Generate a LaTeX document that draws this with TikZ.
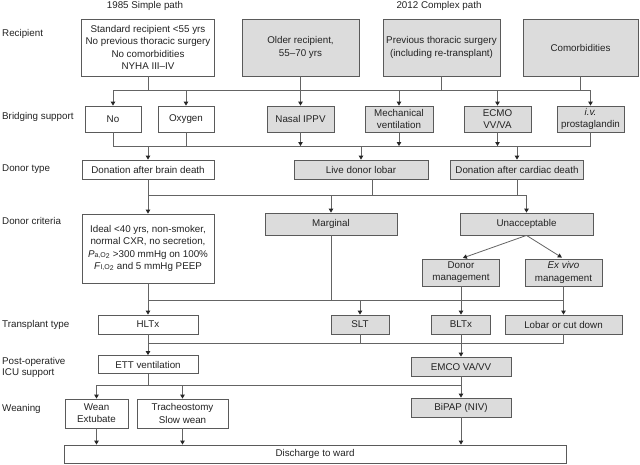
\documentclass[tikz,border=0pt]{standalone}
\usepackage{fontspec}
\setmainfont{Liberation Sans}
\usetikzlibrary{arrows.meta,calc}
\definecolor{boxgray}{RGB}{220,220,220}
\definecolor{linegray}{RGB}{100,100,100}
\definecolor{txt}{RGB}{35,35,35}
\tikzset{
  base/.style={draw=linegray!90!black, line width=0.8pt, inner sep=0pt, align=center, text=txt,
    font={\fontsize{9.8}{12.2}\selectfont}},
  wbox/.style={base, fill=white},
  gbox/.style={base, fill=boxgray},
  lbl/.style={anchor=west, inner sep=0pt, align=left, text=txt, font={\fontsize{9.8}{11.5}\selectfont}},
  ln/.style={draw=linegray, line width=0.8pt},
  arr/.style={ln, -{Triangle[length=4pt,width=4.5pt,color=black!85,fill=black!85]}},
}
\begin{document}
\begin{tikzpicture}[x=1pt,y=-1pt]
\fill[white] (0,0) rectangle (640,464);
\useasboundingbox (0,0) rectangle (640,464);

% headings
\node[text=txt, font={\fontsize{9.8}{12}\selectfont}] (h1) at (145,6) {1985 Simple path};
\node[text=txt, font={\fontsize{9.8}{12}\selectfont}] (h2) at (439,6) {2012 Complex path};

% row labels
\node[lbl] (r1) at (2,34) {Recipient};
\node[lbl] (r2) at (2,117) {Bridging support};
\node[lbl] (r3) at (2,169) {Donor type};
\node[lbl] (r4) at (2,221) {Donor criteria};
\node[lbl] (r5) at (2,325) {Transplant type};
\node[lbl] (r6) at (2,367.5) {Post-operative\\ICU support};
\node[lbl] (r7) at (2,409) {Weaning};

% bus levels
\coordinate (busA) at (0,90);
\coordinate (busB) at (0,146);
\coordinate (busC) at (0,195);
\coordinate (busD) at (0,300);
\coordinate (busE) at (0,343);
\coordinate (busF) at (0,385);

% recipient row
\node[wbox, minimum width=133pt, minimum height=57pt] (std) at (148,47.5)
  {Standard recipient <55 yrs\\No previous thoracic surgery\\No comorbidities\\NYHA III--IV};
\node[gbox, minimum width=117pt, minimum height=57pt] (older) at (300.5,47.5) {Older recipient,\\55--70 yrs};
\node[gbox, minimum width=117pt, minimum height=57pt] (prev) at (441.5,47.5) {Previous thoracic surgery\\(including re-transplant)};
\node[gbox, minimum width=115pt, minimum height=57pt] (com) at (580.5,47.5) {Comorbidities};

% bridging row
\node[wbox, minimum width=56pt, minimum height=26pt] (no) at (113,119) {No};
\node[wbox, minimum width=56pt, minimum height=26pt] (oxy) at (186,119) {Oxygen};
\node[gbox, minimum width=67pt, minimum height=26pt] (nasal) at (300.5,119) {Nasal IPPV};
\node[gbox, minimum width=68pt, minimum height=26pt] (mech) at (399,119) {Mechanical\\ventilation};
\node[gbox, minimum width=67pt, minimum height=26pt] (ecmo) at (497.5,119) {ECMO\\VV/VA};
\node[gbox, minimum width=67pt, minimum height=26pt] (iv) at (590.5,119) {\textit{i.v.}\\prostaglandin};

% donor type row
\node[wbox, minimum width=132pt, minimum height=19pt] (dbd) at (148,169.5) {Donation after brain death};
\node[gbox, minimum width=134pt, minimum height=19pt] (live) at (361,169.5) {Live donor lobar};
\node[gbox, minimum width=133pt, minimum height=19pt] (dcd) at (517,169.5) {Donation after cardiac death};

% donor criteria row
\node[wbox, minimum width=132pt, minimum height=69pt] (ideal) at (148,248.5)
  {Ideal <40 yrs, non-smoker,\\normal CXR, no secretion,\\\textit{P}{\scriptsize a,O}\textsubscript{2} >300 mmHg on 100\%\\\textit{F}{\scriptsize I,O}\textsubscript{2} and 5 mmHg PEEP};
\node[gbox, minimum width=132pt, minimum height=22pt] (marg) at (331,224) {Marginal};
\node[gbox, minimum width=133pt, minimum height=22pt] (unacc) at (526.5,224) {Unacceptable};
\node[gbox, minimum width=77pt, minimum height=27pt] (donm) at (461,272.5) {Donor\\management};
\node[gbox, minimum width=77pt, minimum height=27pt] (exv) at (563.5,272.5) {\textit{Ex vivo}\\management};

% transplant row
\node[wbox, minimum width=100pt, minimum height=19pt] (hltx) at (148,324.5) {HLTx};
\node[gbox, minimum width=58pt, minimum height=19pt] (slt) at (360,324.5) {SLT};
\node[gbox, minimum width=59pt, minimum height=19pt] (bltx) at (461,324.5) {BLTx};
\node[gbox, minimum width=117pt, minimum height=19pt] (lobar) at (563.5,324.5) {Lobar or cut down};

% post-op row
\node[wbox, minimum width=100pt, minimum height=18pt] (ett) at (148,364.5) {ETT ventilation};
\node[gbox, minimum width=100pt, minimum height=19pt] (emco) at (461,366.5) {EMCO VA/VV};

% weaning row
\node[wbox, minimum width=63pt, minimum height=29pt] (wean) at (96.5,413.5) {Wean\\Extubate};
\node[wbox, minimum width=91pt, minimum height=29pt] (trach) at (182.5,413.5) {Tracheostomy\\Slow wean};
\node[gbox, minimum width=100pt, minimum height=19pt] (bipap) at (461,407.5) {BiPAP (NIV)};

% discharge
\node[wbox, minimum width=502pt, minimum height=18pt] (dis) at (315,454) {Discharge to ward};

% recipient -> bridging
\draw[ln] (std.south) -- (std.south |- busA);
\draw[ln] (no.north |- busA) -- (iv.north |- busA);
\draw[ln] (prev.south) -- (prev.south |- busA);
\draw[ln] (com.south) -- (com.south |- busA);
\draw[arr] (no.north |- busA) -- (no.north);
\draw[arr] (oxy.north |- busA) -- (oxy.north);
\draw[arr] (older.south) -- (nasal.north);
\draw[arr] (mech.north |- busA) -- (mech.north);
\draw[arr] (ecmo.north |- busA) -- (ecmo.north);
\draw[arr] (iv.north |- busA) -- (iv.north);

% bridging -> donor type
\draw[ln] (no.south) -- (no.south |- busB);
\draw[ln] (oxy.south) -- (oxy.south |- busB);
\draw[arr] (nasal.south) -- (nasal.south |- busB);
\draw[arr] (mech.south) -- (mech.south |- busB);
\draw[arr] (ecmo.south) -- (ecmo.south |- busB);
\draw[ln] (iv.south) -- (iv.south |- busB);
\draw[ln] (no.south |- busB) -- (iv.south |- busB);
\draw[arr] (dbd.north |- busB) -- (dbd.north);
\draw[arr] (live.north |- busB) -- (live.north);
\draw[arr] (dcd.north |- busB) -- (dcd.north);

% donor type -> criteria
\draw[arr] (dbd.south) -- (ideal.north);
\draw[ln] ($(live.south)+(11,0)$) -- ++(0,16);
\draw[ln] (dcd.south) -- (dcd.south |- busC);
\draw[ln] (dbd.south |- busC) -- (unacc.north |- busC);
\draw[arr] (marg.north |- busC) -- (marg.north);
\draw[arr] (unacc.north |- busC) -- (unacc.north);
\draw[arr, shorten >=2pt] (unacc.south) -- (donm.north);
\draw[arr, shorten >=2pt] (unacc.south) -- (exv.north);

% criteria -> transplant
\draw[arr] (ideal.south) -- (hltx.north);
\draw[ln] (marg.south) -- (marg.south |- busD);
\draw[ln] (ideal.south |- busD) -- (exv.south |- busD);
\draw[arr] (slt.north |- busD) -- (slt.north);
\draw[arr] (donm.south) -- (bltx.north);
\draw[arr] (exv.south) -- (lobar.north);

% transplant -> post-op
\draw[arr] (hltx.south) -- (ett.north);
\draw[ln] (hltx.south |- busE) -- (lobar.south |- busE);
\draw[ln] (slt.south) -- (slt.south |- busE);
\draw[ln] (lobar.south) -- (lobar.south |- busE);
\draw[arr] (bltx.south) -- (emco.north);

% post-op -> weaning
\draw[ln] (ett.south) -- (ett.south |- busF);
\draw[ln] (wean.north |- busF) -- (emco.south |- busF);
\draw[arr] (wean.north |- busF) -- (wean.north);
\draw[arr] (trach.north |- busF) -- (trach.north);
\draw[arr] (emco.south) -- (bipap.north);

% weaning -> discharge
\draw[arr] (wean.south) -- (wean.south |- dis.north);
\draw[arr] (trach.south) -- (trach.south |- dis.north);
\draw[arr] (bipap.south) -- (bipap.south |- dis.north);
\end{tikzpicture}
\end{document}
